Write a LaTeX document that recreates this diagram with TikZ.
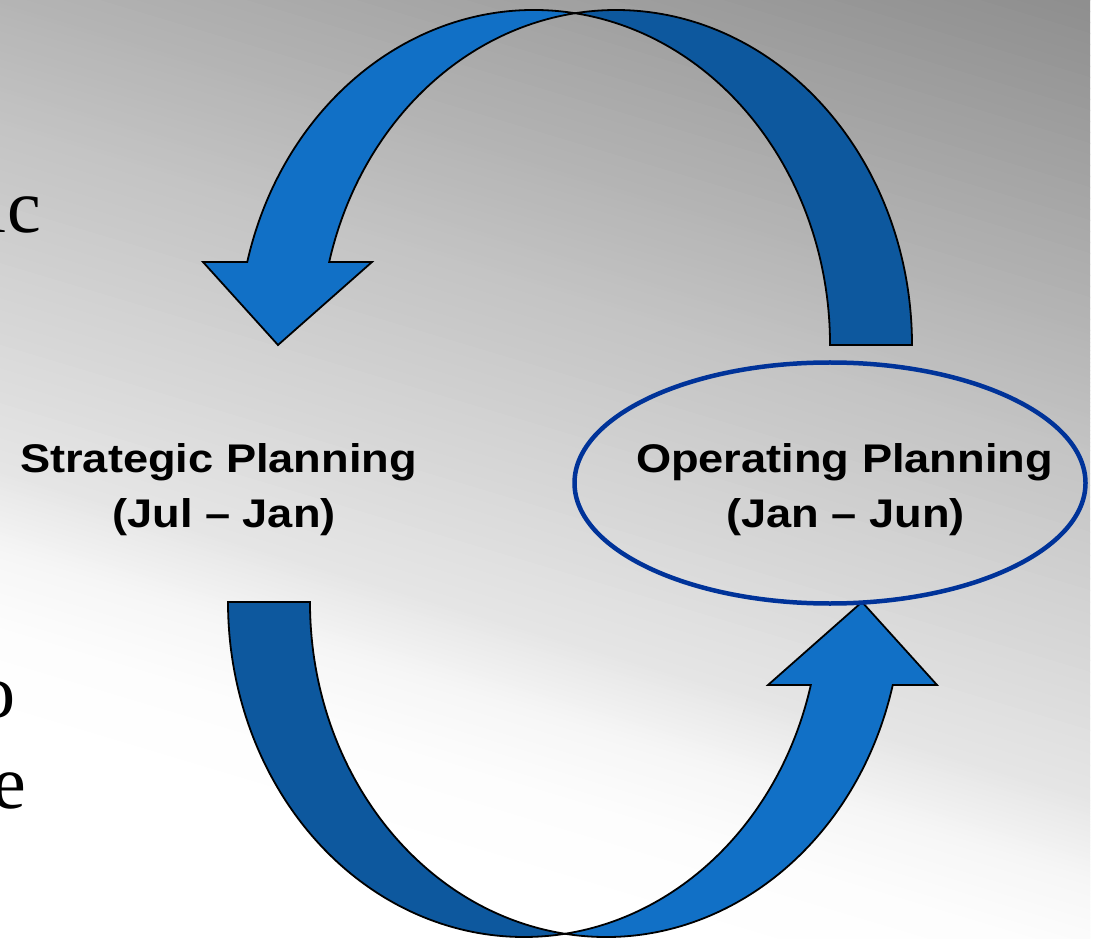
\documentclass[tikz,border=0pt]{standalone}
\usepackage{fontspec}
\usepackage{graphicx}
\usetikzlibrary{shapes.geometric}
\newfontfamily\lblfont{Liberation Sans}
\newfontfamily\serfont{Liberation Serif}
\definecolor{arrowlight}{HTML}{1170C6}
\definecolor{arrowdark}{HTML}{0D589E}
\definecolor{ellblue}{HTML}{003399}
\tikzset{
  band/.style={draw=black, line width=1.8pt, line join=miter},
  lightband/.style={band, fill=arrowlight},
  darkband/.style={band, fill=arrowdark},
  lbl/.style={font=\lblfont\bfseries\fontsize{40}{48}\selectfont, inner sep=0pt, anchor=base, text=black},
  frag/.style={font=\serfont\fontsize{76}{91}\selectfont, inner sep=0pt, anchor=base east, text=black},
  oval/.style={draw=ellblue, line width=4.5pt, ellipse, inner sep=0pt, minimum width=511pt, minimum height=241pt}
}
\begin{document}
\begin{tikzpicture}[x=1pt,y=1pt]
\useasboundingbox (0,0) rectangle (1099,938);
\clip (0,0) rectangle (1099,938);
\fill[white] (0,0) rectangle (1099,938);
% background gradient
\begin{scope}
\clip (0,0) rectangle (1090,938);
\foreach \va/\vb/\ga/\gb in {-40/0/138/142, 0/330/142/181, 330/450/181/195, 450/800/195/230, 800/880/230/246, 880/960/246/253, 960/1050/253/255, 1050/1400/255/255} {
  \foreach \i in {0,...,29} {
    \pgfmathsetmacro\vs{\va+(\vb-\va)*\i/30}
    \pgfmathsetmacro\ve{\va+(\vb-\va)*(\i+1)/30+1}
    \pgfmathsetmacro\gg{min(1,(\ga+(\gb-\ga)*(\i+0.5)/30)/255)}
    \definecolor{bandc}{gray}{\gg}
    \fill[bandc] (-10,{938-\vs+330}) -- (1100,{938-\vs-3}) -- (1100,{938-\ve-3}) -- (-10,{938-\ve+330}) -- cycle;
  }
}
\end{scope}
% curved arrows (top one, and the same rotated for the bottom)
\foreach \r in {0,180} {
  \begin{scope}[rotate around={\r:(570,464.5)}]
    \draw[darkband] (616,593) ++(0:296pt and 335pt)
      arc[start angle=0, end angle=97.96, x radius=296pt, y radius=335pt]
      arc[start angle=82.04, end angle=0, x radius=296pt, y radius=335pt] -- cycle;
    \draw[lightband] (534,593) ++(82.04:296pt and 335pt)
      arc[start angle=82.04, end angle=165.65, x radius=296pt, y radius=335pt]
      -- (203,676) -- (278,593) -- (372,676) -- (329.2,676)
      arc[start angle=165.65, end angle=97.96, x radius=296pt, y radius=335pt] -- cycle;
  \end{scope}
}
% ellipse
\node[oval] (op) at (830,455) {};
% labels
\node[lbl] (st1) at (218.5,465) {\scalebox{1.13}[1]{Strategic Planning}};
\node[lbl] (st2) at (224,411) {\scalebox{1.13}[1]{(Jul – Jan)}};
\node[lbl] (op1) at (844.5,466) {\scalebox{1.13}[1]{Operating Planning}};
\node[lbl] (op2) at (845.5,411) {\scalebox{1.13}[1]{(Jan – Jun)}};
% cut-off text at the left edge
\node[frag] (f1) at (41,705) {ic};
\node[frag] (f2) at (16,221) {o};
\node[frag] (f3) at (26,130) {e};
\end{tikzpicture}
\end{document}
